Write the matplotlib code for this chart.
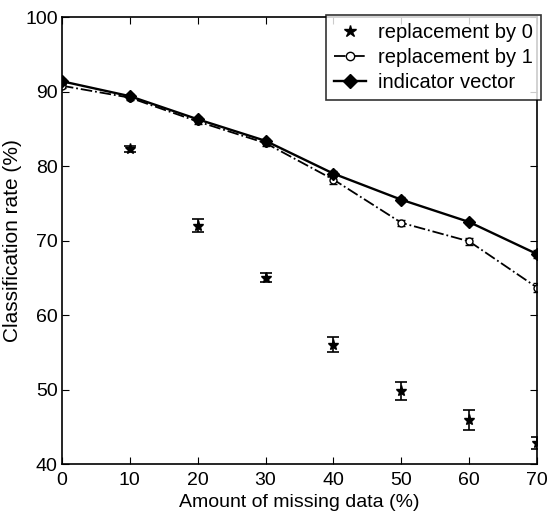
import matplotlib
matplotlib.use("Agg")
import matplotlib.pyplot as plt
from matplotlib.lines import Line2D

plt.rcParams['font.family'] = ['Liberation Sans', 'DejaVu Sans']

# 데이터
missing = [0, 10, 20, 30, 40, 50, 60, 70]
missing_zero = [10, 20, 30, 40, 50, 60, 70]
rate_zero = [82.3, 72.0, 65.0, 56.0, 49.8, 45.9, 42.8]
err_zero = [0.4, 0.9, 0.6, 1.0, 1.2, 1.3, 0.8]
rate_one = [90.8, 89.2, 86.0, 83.1, 78.2, 72.4, 69.9, 63.7]
err_one = [0.3, 0.3, 0.4, 0.4, 0.6, 0.4, 0.5, 0.6]
rate_ind = [91.4, 89.4, 86.3, 83.4, 79.0, 75.5, 72.5, 68.2]
err_ind = [0.3, 0.3, 0.3, 0.3, 0.4, 0.3, 0.3, 0.5]

fig = plt.figure(figsize=(5.48, 5.22), dpi=100)
ax = fig.add_axes([0.113, 0.111, 0.867, 0.856])

# 오차 막대
ax.errorbar(missing_zero, rate_zero, yerr=err_zero, fmt='*', color='black',
            markersize=8, capsize=4, elinewidth=1.2, capthick=1.2)
ax.errorbar(missing, rate_one, yerr=err_one, fmt='-.o', color='black',
            markerfacecolor='white', markersize=5, capsize=3, linewidth=1.3)
ax.errorbar(missing, rate_ind, yerr=err_ind, fmt='-D', color='black',
            markersize=6, capsize=3, linewidth=1.7)

ax.set_xlim(0, 70)
ax.set_ylim(40, 100)
ax.set_xticks(range(0, 71, 10))
ax.set_yticks(range(40, 101, 10))
ax.tick_params(direction='in', top=True, right=True, labelsize=14, length=5, pad=3)
ax.tick_params(axis='x', pad=6)
for s in ax.spines.values():
    s.set_linewidth(1.2)

ax.set_xlabel("Amount of missing data (%)", fontsize=14, labelpad=3)
ax.set_ylabel("Classification rate (%)", fontsize=15)
ax.yaxis.set_label_coords(-0.084, 0.5)

# 범례 (오차 막대 없이)
handles = [
    Line2D([], [], linestyle='none', marker='*', color='black', markersize=9),
    Line2D([], [], linestyle='-.', marker='o', color='black',
           markerfacecolor='white', markersize=6, linewidth=1.3),
    Line2D([], [], linestyle='-', marker='D', color='black', markersize=7,
           linewidth=1.7),
]
labels = ["replacement by 0", "replacement by 1", "indicator vector"]
leg = ax.legend(handles, labels, loc='upper right', bbox_to_anchor=(1.008, 1.005),
                fontsize=14.5, frameon=True, fancybox=False, edgecolor='black',
                handlelength=1.6, borderaxespad=0.0, labelspacing=0.3,
                borderpad=0.4, handletextpad=0.6)
leg.get_frame().set_linewidth(1.2)

plt.savefig("out.png", dpi=100)
